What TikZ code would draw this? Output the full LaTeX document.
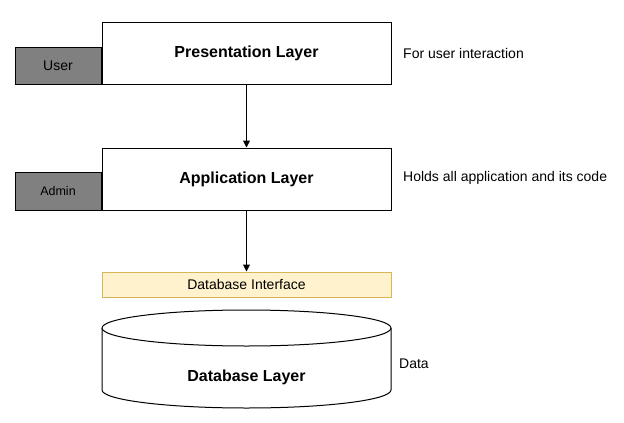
\documentclass[tikz,border=0pt]{standalone}
\usepackage{fontspec}
\setmainfont{Liberation Sans}
\usetikzlibrary{positioning,arrows.meta}
\definecolor{rolegray}{HTML}{808080}
\definecolor{ifacefill}{HTML}{FFF2CC}
\definecolor{ifacedraw}{HTML}{D6B656}
\tikzset{
layer/.style={shape=rectangle, draw=black, line width=1pt, fill=white, minimum width=289pt, minimum height=62pt, font=\fontsize{16}{19}\selectfont\bfseries},
role/.style={shape=rectangle, draw=black, line width=1pt, fill=rolegray, minimum width=86pt, inner sep=0pt, font=\fontsize{14}{17}\selectfont},
note/.style={anchor=west, inner sep=0pt, font=\fontsize{14}{17}\selectfont},
link/.style={draw=black, line width=1pt, -{Triangle[length=7pt,width=7pt]}}
}
\begin{document}
\begin{tikzpicture}[x=1pt,y=-1pt]
\useasboundingbox (0,0) rectangle (624,423);
% layers with their roles
\node[layer] (pres) at (246.5,53) {Presentation Layer};
\node[role, minimum height=37pt, anchor=south east] (user) at (pres.south west) {User};
\node[layer] (app) at (246.5,179) {Application Layer};
\node[role, minimum height=38pt, anchor=south east, font=\fontsize{12.5}{15}\selectfont] (admin) at (app.south west) {Admin};
\node[shape=rectangle, draw=ifacedraw, line width=1pt, fill=ifacefill, minimum width=289pt, minimum height=25pt, font=\fontsize{14}{17}\selectfont] (iface) at (246.5,284.5) {Database Interface};
% database cylinder
\draw[line width=1pt, fill=white] (102,328) -- (102,390) arc[start angle=180, end angle=0, x radius=144.5, y radius=18] -- (391,328);
\draw[line width=1pt, fill=white] (246.5,328) ellipse[x radius=144.5, y radius=18];
\node[font=\fontsize{16}{19}\selectfont\bfseries] (db) at (246.5,377) {Database Layer};
% notes
\node[note] (presnote) at (403,53) {For user interaction};
\node[note] (appnote) at (403,178) {Holds all application and its code};
\node[note] (dbnote) at (399,364) {Data};
% connectors
\draw[link] (pres) -- (app);
\draw[link] (app) -- (iface);
\end{tikzpicture}
\end{document}
